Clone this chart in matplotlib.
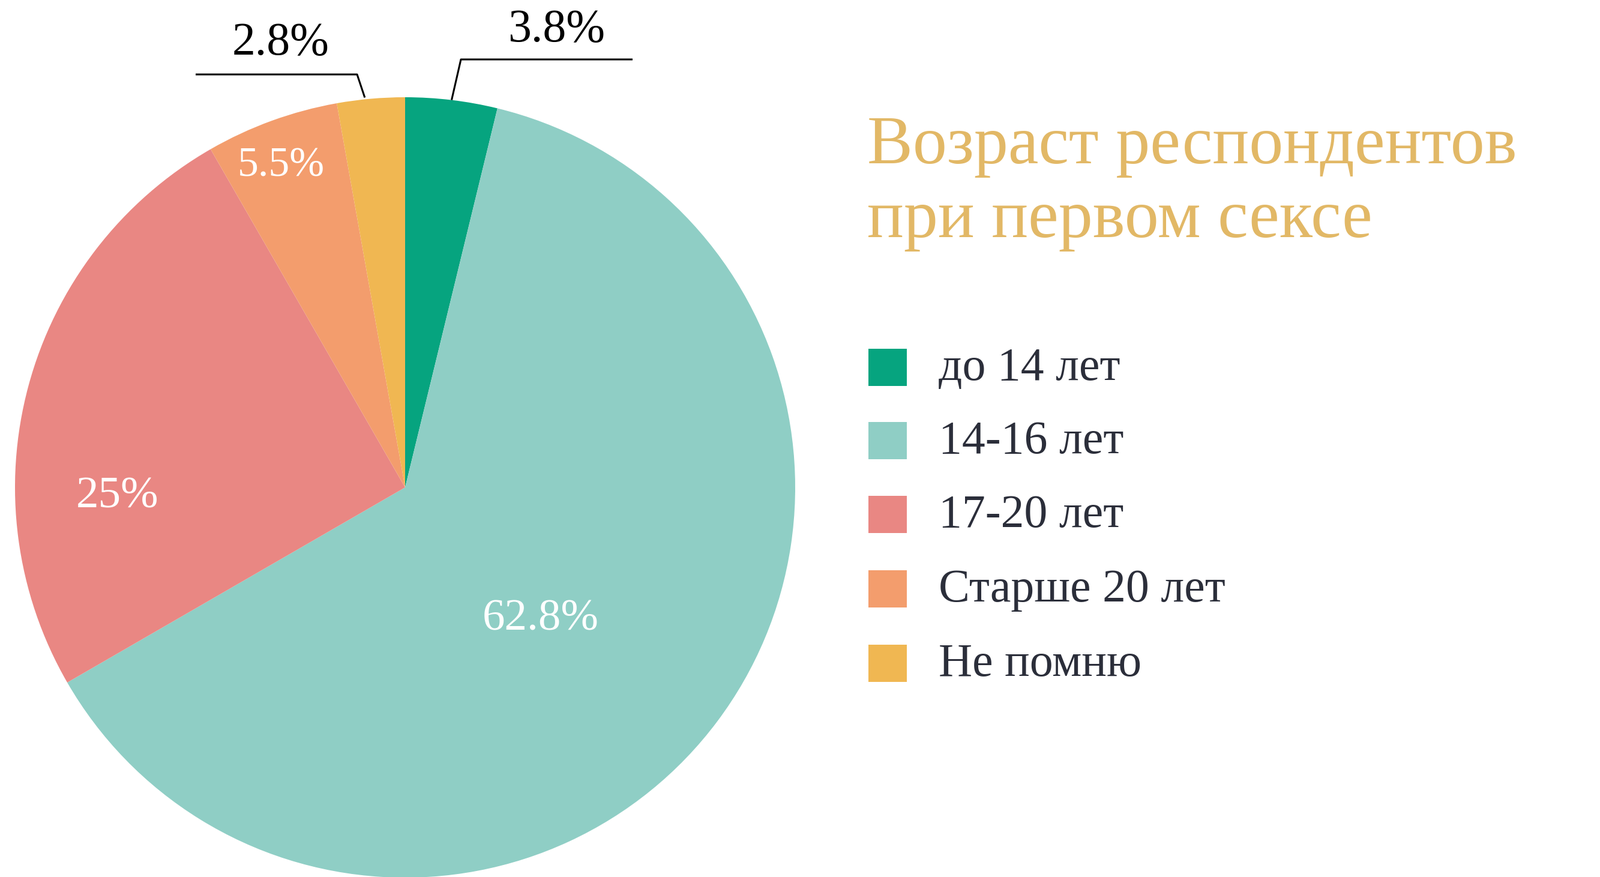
import matplotlib
matplotlib.use("Agg")
import matplotlib.pyplot as plt
import numpy as np

categories = ["до 14 лет", "14-16 лет", "17-20 лет", "Старше 20 лет", "Не помню"]
values = [3.8, 62.8, 25.0, 5.5, 2.8]
value_labels = ["3.8%", "62.8%", "25%", "5.5%", "2.8%"]
colors = ["#06A47F", "#8FCEC5", "#E98783", "#F39D6D", "#F0B752"]
title_lines = ["Возраст респондентов", "при первом сексе"]

W, H = 2666, 1461
fig = plt.figure(figsize=(W / 100, H / 100), dpi=100)
ax = fig.add_axes([0, 0, 1, 1])
ax.set_xlim(0, W)
ax.set_ylim(0, H)
ax.axis("off")

cx, cy, R = 675, H - 812, 650
wedges, _ = ax.pie(values, colors=colors, startangle=90, counterclock=False,
                   center=(cx, cy), radius=R, wedgeprops=dict(linewidth=0))
ax.set_xlim(0, W)
ax.set_ylim(0, H)
ax.set_aspect("equal")

serif = ["Liberation Serif", "DejaVu Serif"]

def P(x, ytop):
    return x, H - ytop

# inside labels
inside = {1: (901, 1032, 54), 2: (196, 828, 54), 3: (468, 277, 50)}
for i, (x, y, fs) in inside.items():
    ax.text(*P(x, y), value_labels[i], color="white", fontsize=fs, family=serif,
            ha="center", va="center")

# outside labels with leader lines
def edge_point(w):
    ang = np.deg2rad((w.theta1 + w.theta2) / 2)
    return cx + R * np.cos(ang), cy + R * np.sin(ang)

# 3.8%
ex, ey = edge_point(wedges[0])
ax.plot([ex, 768, 1054], [ey, H - 99, H - 99], color="black", lw=2.2,
        solid_capstyle="butt")
ax.text(*P(927, 50), value_labels[0], color="black", fontsize=56, family=serif,
        ha="center", va="center")
# 2.8%
ex, ey = edge_point(wedges[4])
ax.plot([ex - 10, 595, 326], [ey + 2, H - 124, H - 124], color="black", lw=2.2,
        solid_capstyle="butt")
ax.text(*P(468, 72), value_labels[4], color="black", fontsize=56, family=serif,
        ha="center", va="center")

# title
ax.text(*P(1445, 272), title_lines[0], color="#E2B866", fontsize=82, family=serif,
        ha="left", va="baseline")
ax.text(*P(1445, 395), title_lines[1], color="#E2B866", fontsize=82, family=serif,
        ha="left", va="baseline")

# legend
row_y = [612, 734, 857, 981, 1105]
for c, lab, y in zip(colors, categories, row_y):
    ax.add_patch(plt.Rectangle((1447, H - y - 31), 64, 62, color=c, lw=0))
    ax.text(*P(1564, y + 2), lab, color="#2B2E3A", fontsize=56, family=serif,
            ha="left", va="center")

fig.savefig("out.png", dpi=100)
